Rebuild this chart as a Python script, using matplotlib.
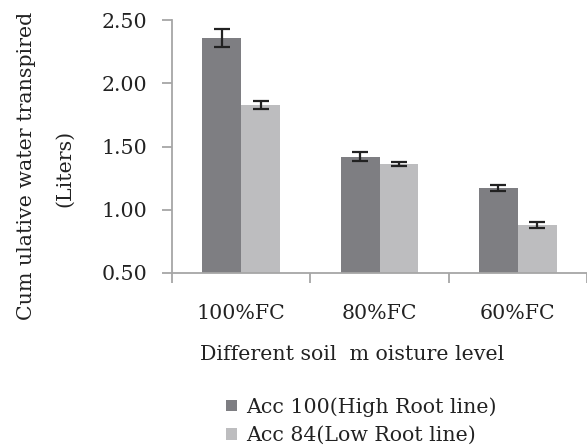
import matplotlib
matplotlib.use("Agg")
import matplotlib.pyplot as plt
import numpy as np

categories = ["100%FC", "80%FC", "60%FC"]
series_names = ["Acc 100(High Root line)", "Acc 84(Low Root line)"]
acc100 = [2.36, 1.42, 1.17]
acc100_err = [0.07, 0.035, 0.025]
acc84 = [1.83, 1.36, 0.88]
acc84_err = [0.03, 0.018, 0.025]
yticks = [0.5, 1.0, 1.5, 2.0, 2.5]
ytick_labels = ["0.50", "1.00", "1.50", "2.00", "2.50"]

W, H = 587, 445
fig = plt.figure(figsize=(W / 100, H / 100), dpi=100)
plt.rcParams['font.family'] = ['DejaVu Serif']
FS = 14.8
TC = "#222222"

ax = fig.add_axes([172 / W, 1 - 273 / H, (587 - 172) / W, (273 - 20) / H])

x = np.arange(len(categories))
bw = 0.28
dark = "#7e7e82"
light = "#bdbdbf"
axcol = "#a6a6a6"

ekw = dict(ecolor="#222222", elinewidth=1.6, capsize=5.5, capthick=1.6)
ax.bar(x - bw / 2, np.array(acc100) - 0.5, bw, bottom=0.5, color=dark, label=series_names[0],
       yerr=acc100_err, error_kw=ekw)
ax.bar(x + bw / 2, np.array(acc84) - 0.5, bw, bottom=0.5, color=light, label=series_names[1],
       yerr=acc84_err, error_kw=ekw)

ax.set_xlim(-0.5, 2.5)
ax.set_ylim(0.5, 2.5)
ax.set_yticks(yticks)
ax.set_yticklabels(ytick_labels, fontsize=FS, color=TC)
ax.set_xticks(x)
ax.set_xticklabels(categories, fontsize=FS, color=TC)
ax.tick_params(axis="x", length=0, pad=22)
ax.set_xticks([-0.5, 0.5, 1.5, 2.5], minor=True)
ax.tick_params(axis="x", which="minor", length=7, color=axcol, width=1.3)
ax.tick_params(axis="y", length=7, color=axcol, width=1.3, pad=11)

for s in ["top", "right"]:
    ax.spines[s].set_visible(False)
for s in ["left", "bottom"]:
    ax.spines[s].set_color(axcol)
    ax.spines[s].set_linewidth(1.3)

fig.text(27 / W, 1 - 166 / H, "Cum ulative water transpired", rotation=90,
         ha="center", va="center", fontsize=FS, color=TC)
fig.text(65 / W, 1 - 168 / H, "(Liters)", rotation=90,
         ha="center", va="center", fontsize=FS, color=TC)
fig.text(352 / W, 1 - 355 / H, "Different soil  m oisture level",
         ha="center", va="center", fontsize=FS, color=TC)

leg = fig.legend(loc="upper left", bbox_to_anchor=(218 / W, 1 - 389 / H), frameon=False,
                 fontsize=FS, handlelength=0.5, handleheight=0.5, handletextpad=0.45,
                 labelspacing=0.45, borderaxespad=0)
for t in leg.get_texts():
    t.set_color(TC)

fig.savefig("out.png", dpi=100)
